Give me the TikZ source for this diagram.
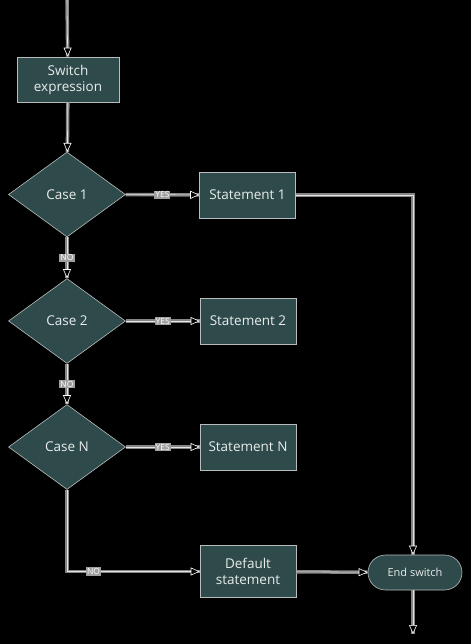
\documentclass[tikz,border=0pt]{standalone}
\usepackage{fontspec}
\setmainfont{Open Sans}
\usetikzlibrary{shapes.geometric,shapes.misc,arrows.meta}
\definecolor{nodefill}{HTML}{2F4A4A}
\definecolor{textc}{HTML}{E8ECEC}
\definecolor{edgec}{HTML}{858585}
\definecolor{bordc}{HTML}{B8BCBC}
\tikzset{
  base/.style={fill=nodefill, draw=bordc, line width=0.6pt, text=textc, font=\fontsize{13.5}{16}\selectfont, align=center, inner sep=0pt},
  proc/.style={base, rectangle, minimum width=96pt, minimum height=46pt},
  dec/.style={base, diamond, minimum width=117pt, minimum height=85pt},
  term/.style={base, rounded rectangle, minimum width=94pt, minimum height=35pt, font=\fontsize{11}{13}\selectfont},
  lab/.style={fill=gray!75, text=white, inner sep=1pt, font=\fontsize{8.5}{9}\selectfont},
  conn/.style={draw=white!90!black, line width=0.6pt,
    preaction={draw=edgec, line width=3.5pt, arrows=-},
    -{Triangle[length=9pt,width=8pt,fill=black,color=white,line width=0.6pt]}},
}
\begin{document}
\begin{tikzpicture}[x=1pt,y=-1pt]
\fill[black] (0,0) rectangle (471,644);
\useasboundingbox (0,0) rectangle (471,644);
\coordinate (top) at (67,0);
\node[proc, minimum width=102pt, minimum height=45pt] (sw) at (68,79.5) {Switch\\expression};
\node[dec] (c1) at (67,194.5) {Case 1};
\node[dec] (c2) at (67,321) {Case 2};
\node[dec] (c3) at (67,447) {Case N};
\node[proc] (s1) at (247.5,195) {Statement 1};
\node[proc] (s2) at (248,321) {Statement 2};
\node[proc] (s3) at (248,447) {Statement N};
\node[proc, minimum height=52pt] (def) at (248,571.5) {Default\\statement};
\node[term] (end) at (415,572.5) {End switch};
\coordinate (bot) at (413,634);
\draw[conn] (top) -- (sw);
\draw[conn] (sw) -- (c1);
\draw[conn] (c1) -- node[lab]{YES} (s1);
\draw[conn] (c2) -- node[lab]{YES} (s2);
\draw[conn] (c3) -- node[lab]{YES} (s3);
\draw[conn] (c1) -- node[lab]{NO} (c2);
\draw[conn] (c2) -- node[lab]{NO} (c3);
\draw[conn] (c3.south) |- node[lab, pos=0.6]{NO} (def.west);
\draw[conn] (s1.east) -| (end.north -| bot);
\draw[conn] (def) -- (end);
\draw[conn] (end.south -| bot) -- (bot);
\end{tikzpicture}
\end{document}
